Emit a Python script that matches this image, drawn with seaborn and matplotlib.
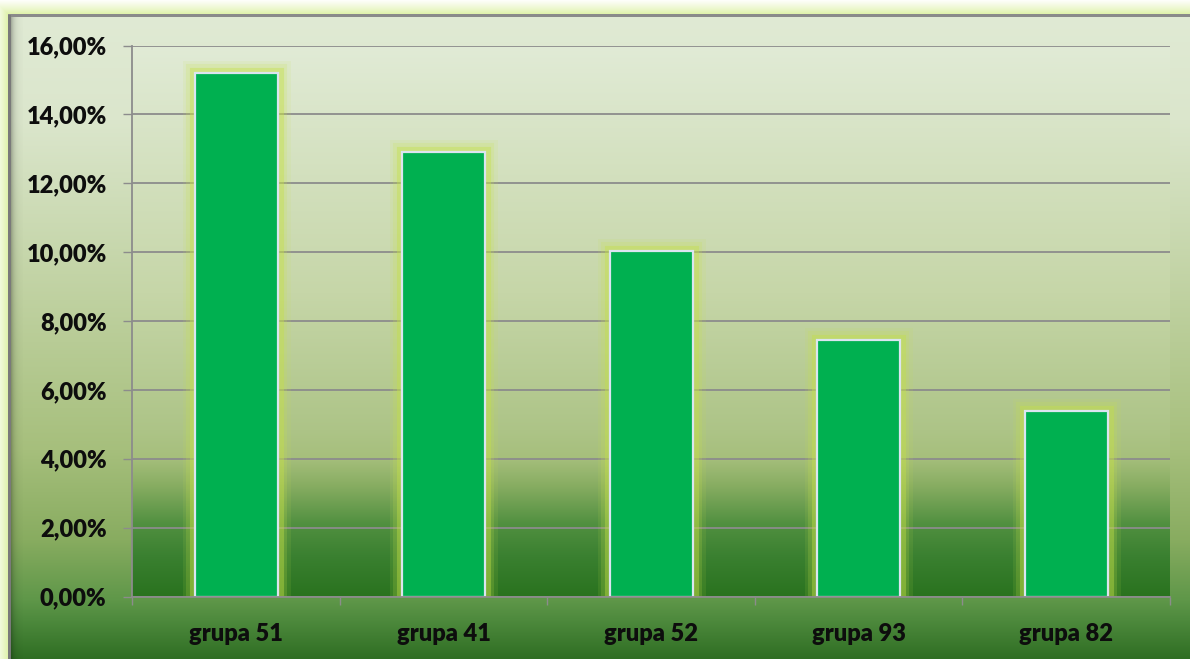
import numpy as np
import pandas as pd
import matplotlib
matplotlib.use("Agg")
import matplotlib.pyplot as plt
import matplotlib.patheffects as pe
from matplotlib.colors import to_rgb
import seaborn as sns

# ---- data ----
categories = ["grupa 51", "grupa 41", "grupa 52", "grupa 93", "grupa 82"]
values = [0.1521, 0.1291, 0.1003, 0.0744, 0.0540]
y_ticks = [0.00, 0.02, 0.04, 0.06, 0.08, 0.10, 0.12, 0.14, 0.16]

sns.set_theme(style="white")
plt.rcParams["font.family"] = ["Lato", "DejaVu Sans"]

W, H = 1190, 659
fig = plt.figure(figsize=(W / 100, H / 100), dpi=100)


def grad(n, stops):
    pos = np.array([s[0] for s in stops], dtype=float)
    cols = np.array([to_rgb(s[1]) for s in stops])
    t = np.linspace(pos[0], pos[-1], n)
    return np.stack([np.interp(t, pos, cols[:, i]) for i in range(3)], axis=1)


# ---- background (chart area with frame & glow) ----
img = np.ones((H, W, 3))
x0, y0 = 9, 15
glow = np.array(to_rgb("#d9ef9a"))
yy, xx = np.mgrid[0:H, 0:W]
dist = np.maximum(np.maximum(y0 - yy, 0), np.maximum(x0 - xx, 0)).astype(float)
outside = (yy < y0) | (xx < x0)
t = np.clip(dist / 16.0, 0, 1) ** 0.8
img[outside] = (glow[None, :] * (1 - t[outside])[:, None] + 1.0 * t[outside][:, None])

chart_stops = [(15, "#e0ead4"), (120, "#dbe6cc"), (300, "#bfd1a0"), (450, "#a6bf7c"),
               (540, "#88ac60"), (600, "#5f9749"), (620, "#4e8a3d"), (659, "#2f6e23")]
col = grad(659, [(0, "#e0ead4")] + chart_stops)
for y in range(y0, H):
    img[y, x0:] = col[y]
# left shadow
for x in range(x0, x0 + 14):
    img[y0:, x] *= (1 - 0.45 * np.exp(-(x - x0) / 3.5))
# frame lines
img[y0 - 1:y0 + 2, x0 - 1:] = to_rgb("#8a8a8a")
img[y0:, x0 - 1:x0 + 2] = to_rgb("#7a7a7a")

bg = fig.add_axes([0, 0, 1, 1], zorder=-10)
bg.imshow(img, extent=(0, W, H, 0), aspect="auto", interpolation="nearest")
bg.set_xlim(0, W)
bg.set_ylim(H, 0)
bg.axis("off")

# ---- main plot ----
left, right, top, bottom = 132.3, 1170, 45.5, 596.5
ax = fig.add_axes([left / W, 1 - bottom / H, (right - left) / W, (bottom - top) / H])
ax.set_facecolor("none")

plot_stops = [(0.0, "#e1ebd6"), (0.45, "#c6d6a8"), (0.70, "#adc487"), (0.75, "#a6bf7c"),
              (0.80, "#88ad62"), (0.87, "#519040"), (0.93, "#3a8030"), (1.0, "#2a731f")]
pg = grad(300, plot_stops)[:, None, :]
ax.imshow(pg, extent=[-0.5, 4.5, 0, 0.16], aspect="auto", origin="upper",
          interpolation="bilinear", zorder=0)

df = pd.DataFrame({"cat": categories, "val": values})
sns.barplot(data=df, x="cat", y="val", color="#00B050", saturation=1, width=0.4,
            edgecolor="#dbe5f0", linewidth=1.6, ax=ax, zorder=2)

for p in ax.patches:
    p.set_path_effects([
        pe.Stroke(linewidth=18, foreground="#c8e24c", alpha=0.10),
        pe.Stroke(linewidth=13, foreground="#c8e24c", alpha=0.18),
        pe.Stroke(linewidth=8, foreground="#c4e048", alpha=0.40),
        pe.Normal(),
    ])

ax.set_xlim(-0.5, 4.5)
ax.set_ylim(0, 0.16)
ax.set_xlabel("")
ax.set_ylabel("")

ax.set_yticks(y_ticks)
ax.set_yticklabels([f"{v * 100:.2f}%".replace(".", ",") for v in y_ticks],
                   fontweight="heavy", fontsize=17, color="#0d0d0d")
ax.set_xticks(range(len(categories)))
ax.set_xticklabels(categories, fontweight="heavy", fontsize=17, color="#0d0d0d")
ax.set_xticks(np.arange(-0.5, len(categories), 1), minor=True)

ax.tick_params(axis="y", which="major", direction="out", length=6.5, width=1.0,
               color="#8c8c8c", pad=12, left=True)
ax.tick_params(axis="x", which="major", length=0, pad=19)
ax.tick_params(axis="x", which="minor", direction="out", length=6, width=1.0,
               color="#8c8c8c", bottom=True)

ax.yaxis.grid(True, color="#8c8c8c", linewidth=1.3)
ax.xaxis.grid(False)
ax.set_axisbelow(True)
for s in ["top", "right"]:
    ax.spines[s].set_visible(False)
for s in ["left", "bottom"]:
    ax.spines[s].set_visible(True)
    ax.spines[s].set_color("#8c8c8c")
    ax.spines[s].set_linewidth(1.3)

fig.savefig("out.png", dpi=100)
